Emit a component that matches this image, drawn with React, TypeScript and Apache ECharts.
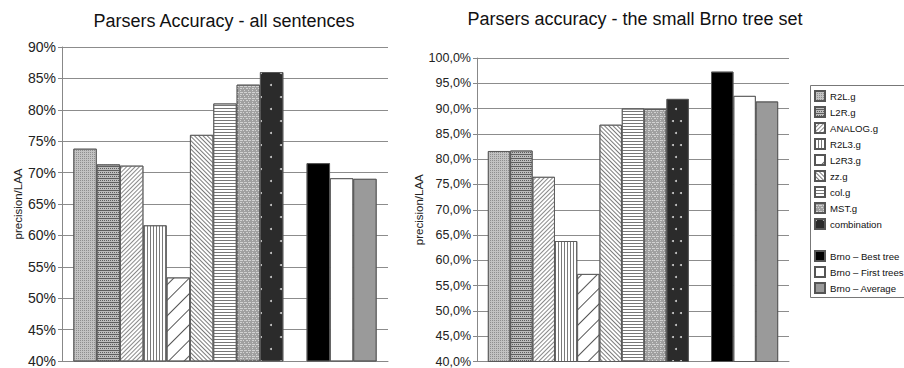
import React, { useEffect, useRef } from "react";
import * as echarts from "echarts";

// ---- data ----
const seriesNames = [
  "R2L.g",
  "L2R.g",
  "ANALOG.g",
  "R2L3.g",
  "L2R3.g",
  "zz.g",
  "col.g",
  "MST.g",
  "combination",
  " ",
  "Brno – Best tree",
  "Brno – First trees",
  "Brno – Average",
];
const allSentences = [73.8, 71.3, 71.1, 61.6, 53.3, 76.0, 81.0, 84.0, 86.0, null, 71.5, 69.1, 69.0];
const brnoTreeSet = [81.6, 81.7, 76.5, 63.8, 57.3, 86.8, 90.0, 89.9, 91.9, null, 97.3, 92.5, 91.4];
const legendGroupA = seriesNames.slice(0, 9);
const legendGroupB = seriesNames.slice(10);
const leftTitle = "Parsers Accuracy - all sentences";
const rightTitle = "Parsers accuracy - the small Brno tree set";
const yAxisName = "precision/LAA";

const FONT = '"Liberation Sans", Arial, sans-serif';

const line = (spacing: number, rotation: number, color: string, width = 1) => ({
  symbol: "rect",
  symbolSize: 1,
  dashArrayX: [20, 0],
  dashArrayY: [width, spacing],
  rotation,
  color,
});

const styles: any[] = [
  { color: "#c2c2c2", decal: { symbol: "rect", symbolSize: 1, dashArrayX: [1, 1], dashArrayY: [1, 1], color: "#8e8e8e" } },
  { color: "#bdbdbd", decal: { symbol: "rect", symbolSize: 1, dashArrayX: [[20, 0], [1, 1]], dashArrayY: [1, 1], color: "#5e5e5e" } },
  { color: "#ffffff", decal: line(2, -Math.PI / 4, "#8a8a8a") },
  { color: "#ffffff", decal: { symbol: "rect", symbolSize: 1, dashArrayX: [1, 2], dashArrayY: [20, 0], color: "#7a7a7a" } },
  { color: "#ffffff", decal: line(10, -Math.PI / 4, "#555555") },
  { color: "#ffffff", decal: line(2, Math.PI / 4, "#7a7a7a") },
  { color: "#ffffff", decal: line(2, 0, "#777777") },
  { color: "#a0a0a0", decal: { symbol: "rect", symbolSize: 1, dashArrayX: [[2, 1, 1, 2], [1, 3], [3, 1]], dashArrayY: [1, 1], color: "#d2d2d2" } },
  { color: "#2b2b2b", decal: { symbol: "circle", symbolSize: 1, dashArrayX: [[2, 13], [2, 6, 2, 18]], dashArrayY: [2, 10], color: "#d0d0d0" } },
  { color: "#ffffff" },
  { color: "#000000" },
  { color: "#ffffff" },
  { color: "#9a9a9a" },
];

function buildSeries() {
  const out: any[] = [];
  [allSentences, brnoTreeSet].forEach((vals, axis) => {
    seriesNames.forEach((name, i) => {
      const st = styles[i];
      out.push({
        type: "bar",
        name,
        xAxisIndex: axis,
        yAxisIndex: axis,
        data: [vals[i] === null ? "-" : vals[i]],
        barGap: "0%",
        barCategoryGap: "7%",
        silent: true,
        itemStyle: {
          color: st.color,
          borderColor: "#555555",
          borderWidth: 0.8,
          decal: st.decal ? st.decal : { symbol: "none" },
        },
      });
    });
  });
  return out;
}

const commonY = {
  type: "value",
  interval: 5,
  nameLocation: "middle",
  nameRotate: 90,
  nameTextStyle: { fontFamily: FONT, fontSize: 11.5, color: "#222" },
  axisLine: { show: true, lineStyle: { color: "#888", width: 1 } },
  axisTick: { show: true, length: 4, lineStyle: { color: "#888" } },
  splitLine: { show: true, lineStyle: { color: "#8c8c8c", width: 1 } },
};

export default function App() {
  const ref = useRef<HTMLDivElement>(null);
  useEffect(() => {
    if (!ref.current) return;
    const chart = echarts.init(ref.current, undefined, { renderer: "svg" });
    const legendCommon = {
      orient: "vertical",
      left: 814,
      itemWidth: 10,
      itemHeight: 10,
      itemGap: 4,
      padding: 0,
      icon: "rect",
      selectedMode: false,
      textStyle: { fontFamily: FONT, fontSize: 9.6, lineHeight: 12, color: "#111" },
    };
    chart.setOption({
      animation: false,
      backgroundColor: "#ffffff",
      grid: [
        { left: 62, top: 47, width: 326, height: 320 },
        { left: 477, top: 58, width: 312, height: 307 },
      ],
      xAxis: [0, 1].map((g) => ({
        type: "category",
        gridIndex: g,
        data: [""],
        axisLine: { show: true, lineStyle: { color: "#888" } },
        axisTick: { show: false },
        axisLabel: { show: false },
      })),
      yAxis: [
        {
          ...commonY,
          gridIndex: 0,
          min: 40,
          max: 90,
          name: yAxisName,
          nameGap: 33,
          axisLabel: { margin: 6, fontFamily: FONT, fontSize: 14, color: "#222", formatter: (v: number) => `${v}%` },
        },
        {
          ...commonY,
          gridIndex: 1,
          min: 40,
          max: 100,
          name: yAxisName,
          nameGap: 48,
          axisLabel: {
            margin: 6,
            fontFamily: FONT,
            fontSize: 12.5,
            color: "#222",
            formatter: (v: number) => `${v.toFixed(1).replace(".", ",")}%`,
          },
        },
      ],
      legend: [
        { ...legendCommon, data: legendGroupA, top: 90 },
        { ...legendCommon, data: legendGroupB, top: 250 },
      ],
      graphic: [
        {
          type: "rect",
          silent: true,
          shape: { x: 810.5, y: 85.5, width: 120, height: 212 },
          style: { fill: "none", stroke: "#777", lineWidth: 1 },
        },
        {
          type: "text",
          x: 224,
          y: 12,
          style: { text: leftTitle, fontFamily: FONT, fontSize: 18, fill: "#111", align: "center", verticalAlign: "top" },
        },
        {
          type: "text",
          x: 635,
          y: 10,
          style: { text: rightTitle, fontFamily: FONT, fontSize: 18, fill: "#111", align: "center", verticalAlign: "top" },
        },
      ],
      series: buildSeries(),
    });
    return () => chart.dispose();
  }, []);
  return (
    <div
      ref={ref}
      style={{ position: "absolute", left: 0, top: 0, width: 904, height: 368, background: "#fff" }}
    />
  );
}
